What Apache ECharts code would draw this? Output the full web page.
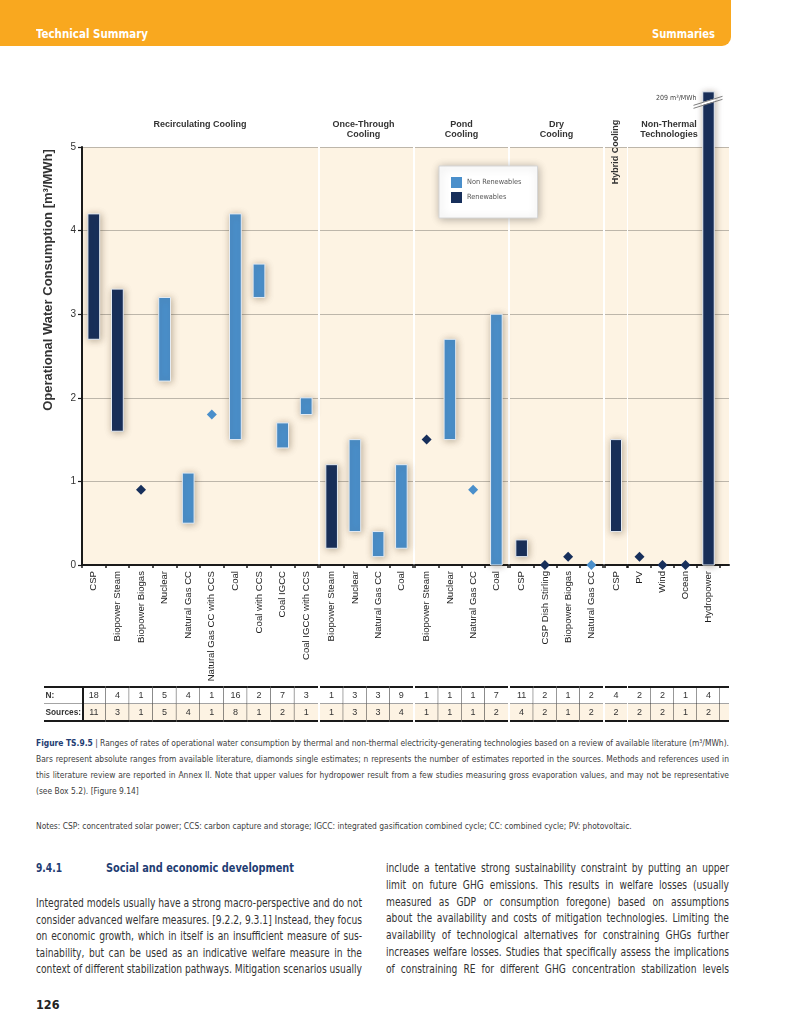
<!DOCTYPE html>
<html>
<head>
<meta charset="utf-8">
<script src="https://cdn.jsdelivr.net/npm/echarts@6/dist/echarts.min.js"></script>
<style>
  body { margin:0; width:800px; height:1035px; position:relative; background:#fff; overflow:hidden;
         font-family:"Liberation Sans Narrow","DejaVu Sans Condensed","Liberation Sans",sans-serif; }
  #chart { position:absolute; left:0; top:0; width:800px; height:730px; }
  #hdr { position:absolute; left:0; top:0; width:731px; height:46px; background:#f9a81f;
         border-bottom-right-radius:9px; z-index:2; }
  .sx { position:absolute; white-space:nowrap; transform-origin:0 0; }
  #hdr .sx { top:26px; color:#fff; font-weight:bold; font-size:13px; line-height:16px; }
  .ln { position:absolute; white-space:nowrap; transform-origin:0 0; }
  .j { text-align:justify; text-align-last:justify; }
  .cap { left:36px; color:#3d3d3d; line-height:12px; }
  .fig { color:#1f3d73; font-weight:bold; }
  .bodyL { left:36px; color:#333; line-height:14px; }
  .bodyR { left:386px; color:#333; line-height:14px; }
  .hd { color:#1f3d73; font-weight:bold; font-size:12.5px; line-height:14px; }
</style>
</head>
<body>
<div id="chart"></div>
<div id="hdr"><span class="sx" data-w="112" style="left:36px">Technical Summary</span><span class="sx" data-w="63" style="left:652px">Summaries</span></div>

<div class="ln cap j fitc" data-w="693" style="top:737px"><span class="fig">Figure TS.9.5</span> | Ranges of rates of operational water consumption by thermal and non-thermal electricity-generating technologies based on a review of available literature (m³/MWh).</div>
<div class="ln cap j fitc" data-w="693" style="top:753px">Bars represent absolute ranges from available literature, diamonds single estimates; n represents the number of estimates reported in the sources. Methods and references used in</div>
<div class="ln cap j fitc" data-w="693" style="top:769px">this literature review are reported in Annex II. Note that upper values for hydropower result from a few studies measuring gross evaporation values, and may not be representative</div>
<div class="ln cap fitc" data-w="693" style="top:785px">(see Box 5.2). [Figure 9.14]</div>
<div class="ln cap fitc" data-w="693" style="top:820px">Notes: CSP: concentrated solar power; CCS: carbon capture and storage; IGCC: integrated gasification combined cycle; CC: combined cycle; PV: photovoltaic.</div>

<div class="sx hd" data-w="26" style="left:36px;top:861px">9.4.1</div>
<div class="sx hd" data-w="188" style="left:106px;top:861px">Social and economic development</div>

<div class="ln bodyL j fitb" data-w="326" style="top:896px">Integrated models usually have a strong macro-perspective and do not</div>
<div class="ln bodyL j fitb" data-w="326" style="top:913px">consider advanced welfare measures. [9.2.2, 9.3.1] Instead, they focus</div>
<div class="ln bodyL j fitb" data-w="326" style="top:929px">on economic growth, which in itself is an insufficient measure of sus-</div>
<div class="ln bodyL j fitb" data-w="326" style="top:946px">tainability, but can be used as an indicative welfare measure in the</div>
<div class="ln bodyL j fitb" data-w="326" style="top:962px">context of different stabilization pathways. Mitigation scenarios usually</div>

<div class="ln bodyR j fitb" data-w="343" style="top:861px">include a tentative strong sustainability constraint by putting an upper</div>
<div class="ln bodyR j fitb" data-w="343" style="top:878px">limit on future GHG emissions. This results in welfare losses (usually</div>
<div class="ln bodyR j fitb" data-w="343" style="top:895px">measured as GDP or consumption foregone) based on assumptions</div>
<div class="ln bodyR j fitb" data-w="343" style="top:911px">about the availability and costs of mitigation technologies. Limiting the</div>
<div class="ln bodyR j fitb" data-w="343" style="top:928px">availability of technological alternatives for constraining GHGs further</div>
<div class="ln bodyR j fitb" data-w="343" style="top:945px">increases welfare losses. Studies that specifically assess the implications</div>
<div class="ln bodyR j fitb" data-w="343" style="top:962px">of constraining RE for different GHG concentration stabilization levels</div>

<div class="sx hd" data-w="26" style="left:36px;top:998px;color:#222">126</div>

<script>
// ---------------- data ----------------
const categories = [
  'CSP','Biopower Steam','Biopower Biogas','Nuclear','Natural Gas CC','Natural Gas CC with CCS',
  'Coal','Coal with CCS','Coal IGCC','Coal IGCC with CCS',
  'Biopower Steam','Nuclear','Natural Gas CC','Coal',
  'Biopower Steam','Nuclear','Natural Gas CC','Coal',
  'CSP','CSP Dish Stirling','Biopower Biogas','Natural Gas CC',
  'CSP',
  'PV','Wind','Ocean','Hydropower'
];
const groupIndex = [0,0,0,0,0,0,0,0,0,0, 1,1,1,1, 2,2,2,2, 3,3,3,3, 4, 5,5,5,5];
const groupTitles = ['Recirculating Cooling','Once-Through\nCooling','Pond\nCooling','Dry\nCooling','Hybrid Cooling','Non-Thermal\nTechnologies'];
const lowValues  = [2.7,1.6,0.9,2.2,0.5,1.8,1.5,3.2,1.4,1.8, 0.2,0.4,0.1,0.2, 1.5,1.5,0.9,0.0, 0.1,0.0,0.1,0.0, 0.4, 0.1,0.0,0.0,0.0];
const highValues = [4.2,3.3,0.9,3.2,1.1,1.8,4.2,3.6,1.7,2.0, 1.2,1.5,0.4,1.2, 1.5,2.7,0.9,3.0, 0.3,0.0,0.1,0.0, 1.5, 0.1,0.0,0.0,209];
const renewable  = [1,1,1,0,0,0,0,0,0,0, 1,0,0,0, 1,0,0,0, 1,1,1,0, 1, 1,1,1,1];
const nEstimates = [18,4,1,5,4,1,16,2,7,3, 1,3,3,9, 1,1,1,7, 11,2,1,2, 4, 2,2,1,4];
const nSources   = [11,3,1,5,4,1,8,1,2,1, 1,3,3,4, 1,1,1,2, 4,2,1,2, 2, 2,2,1,2];
const tableRowLabels = ['Sources:','N:'];
const seriesNames = ['Non Renewables','Renewables'];
const yMin = 0, yMax = 5, yStep = 1;
const brokenBarTop = 5.66;   // where an off-scale bar is cut (axis break)
const unitLabel = ' m³/MWh';

// ---------------- layout ----------------
const gridLeft  = [82, 320, 415, 510, 605, 628];
const gridWidth = [236, 93, 93, 93, 22, 92];
const extLeft = 720, extWidth = 9;
const plotTop = 147, plotHeight = 418;
const tableTop = 687, tableHeight = 34;
const titleDx = [0, -3, 0, 0, 0, -5];

const CREAM = '#fdf3e3', NAVY = '#172f5b', BLUE = '#4a8fcb', INK = '#1a1a1a', GRIDC = '#bdb6aa';
const FONT = 'Liberation Sans';
const NARROW = '"Liberation Sans Narrow","DejaVu Sans Condensed","Liberation Sans"';

const chart = echarts.init(document.getElementById('chart'), null, {renderer:'canvas'});
const grids = [], xAxes = [], yAxes = [], series = [];

function valueY(show) {
  return {
    type:'value', min:yMin, max:yMax, interval:yStep,
    axisLine:{show:show, lineStyle:{color:INK, width:2}},
    axisTick:{show:show, length:4, lineStyle:{color:INK, width:1.2}},
    axisLabel:{show:show, fontSize:10, color:'#333', margin:6, fontFamily:FONT},
    splitLine:{show:true, lineStyle:{color:GRIDC, width:1}}
  };
}
function addChartGrid(left, width, cats, showY, showTicks) {
  grids.push({left, width, top:plotTop, height:plotHeight, show:true, backgroundColor:CREAM, borderWidth:0});
  xAxes.push({
    type:'category', gridIndex:grids.length-1, data:cats, boundaryGap:true,
    axisLine:{lineStyle:{color:INK, width:2}},
    axisTick:{show:showTicks, length:3, interval:0, lineStyle:{color:INK, width:1.5}},
    axisLabel:{show:showTicks, rotate:90, interval:0, fontSize:9.6, color:'#1e1e1e', margin:6, fontFamily:FONT},
    splitLine:{show:false}
  });
  yAxes.push(Object.assign(valueY(showY), {gridIndex:grids.length-1}));
  return grids.length-1;
}
function addTableGrid(left, width, n) {
  grids.push({left, width, top:tableTop, height:tableHeight, show:false});
  xAxes.push({type:'category', gridIndex:grids.length-1, data:Array.from({length:n},(_, k)=>k), show:false, boundaryGap:true});
  yAxes.push({type:'category', gridIndex:grids.length-1, data:['Sources','N'], show:false, boundaryGap:true});
  return grids.length-1;
}
function seg(x1,y1,x2,y2,w){ return {type:'line', shape:{x1,y1,x2,y2}, style:{stroke:INK, lineWidth:w}}; }

function renderRange(params, api) {
  const x = api.value(0), lo = api.value(1), hi = api.value(2), real = api.value(3);
  const p0 = api.coord([x, lo]), p1 = api.coord([x, hi]);
  const w = api.size([1, 0])[0] * 0.5;
  const cx = p0[0];
  const color = api.visual('color');
  const kids = [{
    type:'rect', shape:{x:cx - w/2, y:p1[1], width:w, height:p0[1]-p1[1]},
    style:{fill:color, stroke:'#e6ecf3', lineWidth:1, shadowBlur:7, shadowColor:'rgba(70,50,20,0.35)', shadowOffsetX:1, shadowOffsetY:1}
  }];
  if (real > hi) {
    const yb = p1[1] + 10;
    kids.push({type:'polygon', shape:{points:[[cx-w/2-1, yb+3.5],[cx+w/2+1, yb-0.5],[cx+w/2+1, yb-3.5],[cx-w/2-1, yb+0.5]]}, style:{fill:'#ffffff'}});
    kids.push({type:'line', shape:{x1:cx-15, y1:yb+6.5, x2:cx+14, y2:yb-2.5}, style:{stroke:'#7d7d7d', lineWidth:1}});
    kids.push({type:'line', shape:{x1:cx-15, y1:yb+3.5, x2:cx+14, y2:yb-5.5}, style:{stroke:'#7d7d7d', lineWidth:1}});
    kids.push({type:'text', x:cx - 12, y:p1[1] + 6, style:{text:real + unitLabel, align:'right', verticalAlign:'middle', fontSize:7, fontFamily:NARROW, fill:'#444'}});
  }
  return {type:'group', children:kids};
}

function makeCellRenderer(texts, flags, isLabel) {
  return function (params, api) {
    const c = api.coord([api.value(0), api.value(1)]);
    const s = api.size([1, 1]);
    const x0 = c[0]-s[0]/2, x1 = c[0]+s[0]/2, y0 = c[1]-s[1]/2, y1 = c[1]+s[1]/2;
    const top = api.value(1) === 1;
    const f = flags[params.dataIndex];
    const kids = [{type:'rect', shape:{x:x0, y:y0, width:s[0], height:s[1]}, style:{fill:(top || isLabel) ? '#ffffff' : CREAM}}];
    if (top) { kids.push(seg(x0, y0, x1, y0, 2)); kids.push(seg(x0, y1, x1, y1, 0.8)); }
    else kids.push(seg(x0, y1, x1, y1, 2));
    if (f & 2) kids.push(seg(x1, y0, x1, y1, 0.9));
    if (f & 1) kids.push(seg(x0+1, y0, x0+1, y1, 2));
    const t = texts[params.dataIndex];
    if (t !== '') {
      kids.push({type:'text', x:isLabel ? x0 + 1.5 : c[0], y:c[1],
        style:{text:String(t), align:isLabel ? 'left' : 'center', verticalAlign:'middle',
               fontSize:isLabel ? 8.3 : 9, fontWeight:isLabel ? 'bold' : 'normal', fontFamily:FONT, fill:'#333'}});
    }
    return {type:'group', children:kids};
  };
}

// chart panels
const groupMembers = groupTitles.map((_, g) => categories.map((c, i) => i).filter(i => groupIndex[i] === g));
groupMembers.forEach((idx, g) => {
  const gi = addChartGrid(gridLeft[g], gridWidth[g], idx.map(i => categories[i]), g === 0, true);
  seriesNames.forEach((name, r) => {
    const color = r ? NAVY : BLUE;
    const bars = [], dots = [];
    idx.forEach((i, k) => {
      if (renewable[i] !== r) return;
      if (lowValues[i] === highValues[i]) dots.push([k, lowValues[i]]);
      else bars.push([k, lowValues[i], highValues[i] > yMax ? brokenBarTop : highValues[i], highValues[i]]);
    });
    series.push({type:'custom', name, xAxisIndex:gi, yAxisIndex:gi, itemStyle:{color}, renderItem:renderRange, data:bars, clip:false, z:3});
    series.push({type:'scatter', name, xAxisIndex:gi, yAxisIndex:gi, symbol:'diamond', symbolSize:[10,10],
                 itemStyle:{color, opacity:1}, data:dots, clip:false, z:4});
  });
});
addChartGrid(extLeft, extWidth, [''], false, false);

// N / Sources table
groupMembers.forEach((idx, g) => {
  const ti = addTableGrid(gridLeft[g], gridWidth[g], idx.length);
  const data = [], texts = [], flags = [];
  idx.forEach((i, k) => {
    const f = ((k < idx.length - 1 || g === groupTitles.length - 1) ? 2 : 0) | ((g === 0 && k === 0) ? 1 : 0);
    data.push([k, 1]); texts.push(nEstimates[i]); flags.push(f);
    data.push([k, 0]); texts.push(nSources[i]); flags.push(f);
  });
  series.push({type:'custom', name:'table', xAxisIndex:ti, yAxisIndex:ti, data, renderItem:makeCellRenderer(texts, flags, false), clip:false, z:2, silent:true});
});
{
  const ti = addTableGrid(extLeft, extWidth, 1);
  series.push({type:'custom', name:'table', xAxisIndex:ti, yAxisIndex:ti, data:[[0,1],[0,0]],
               renderItem:makeCellRenderer(['',''], [0,0], false), clip:false, z:2, silent:true});
  const li = addTableGrid(44, 38, 1);
  series.push({type:'custom', name:'table', xAxisIndex:li, yAxisIndex:li, data:[[0,1],[0,0]],
               renderItem:makeCellRenderer([tableRowLabels[1], tableRowLabels[0]], [0,0], true), clip:false, z:5, silent:true});
}

// titles
const graphic = groupTitles.map((t, g) => {
  const cx = gridLeft[g] + gridWidth[g] / 2 + titleDx[g];
  if (g === 4) {
    return {type:'text', x:cx, y:152, rotation:Math.PI/2, silent:true,
            style:{text:t, align:'center', verticalAlign:'middle', fontSize:9, fontWeight:'bold', fontFamily:FONT, fill:'#333'}};
  }
  return {type:'text', x:cx, y:120, silent:true,
          style:{text:t, align:'center', verticalAlign:'top', lineHeight:9.5, fontSize:9, fontWeight:'bold', fontFamily:FONT, fill:'#333'}};
});
graphic.push({type:'text', x:48, y:280, rotation:Math.PI/2, silent:true,
  style:{text:'Operational Water Consumption [m³/MWh]', align:'center', verticalAlign:'middle', fontSize:13, fontWeight:'bold', fontFamily:FONT, fill:'#333'}});

chart.setOption({
  animation:false,
  textStyle:{fontFamily:FONT},
  grid:grids, xAxis:xAxes, yAxis:yAxes, series, graphic,
  legend:{
    data:seriesNames, orient:'vertical', left:439, top:166, icon:'rect',
    itemWidth:11, itemHeight:11, itemGap:4, padding:[11,16,15,12],
    backgroundColor:'#fff', borderColor:'#d6d6d6', borderWidth:1,
    shadowBlur:8, shadowColor:'rgba(0,0,0,0.3)', shadowOffsetX:1, shadowOffsetY:1,
    textStyle:{fontSize:7.3, color:'#555', fontFamily:NARROW}, selectedMode:false
  }
});

// condense the page text lines into their measures (scaleX keeps glyph height)
function fitLines(sel, fs) {
  const els = Array.from(document.querySelectorAll(sel));
  els.forEach(el => { el.style.fontSize = fs + 'px'; el.style.width = 'auto'; });
  let s = 1;
  els.forEach(el => {
    const w = el.getBoundingClientRect().width;
    if (el.classList.contains('j')) s = Math.min(s, (+el.dataset.w) / w);
  });
  els.forEach(el => {
    if (el.classList.contains('j')) el.style.width = ((+el.dataset.w) / s) + 'px';
    el.style.transform = 'scaleX(' + s + ')';
  });
}
fitLines('.fitc', 9.4);
fitLines('.fitb', 11.6);
document.querySelectorAll('.sx').forEach(el => {
  const w = el.getBoundingClientRect().width;
  el.style.transform = 'scaleX(' + Math.min(1, (+el.dataset.w) / w) + ')';
});
</script>
</body>
</html>
